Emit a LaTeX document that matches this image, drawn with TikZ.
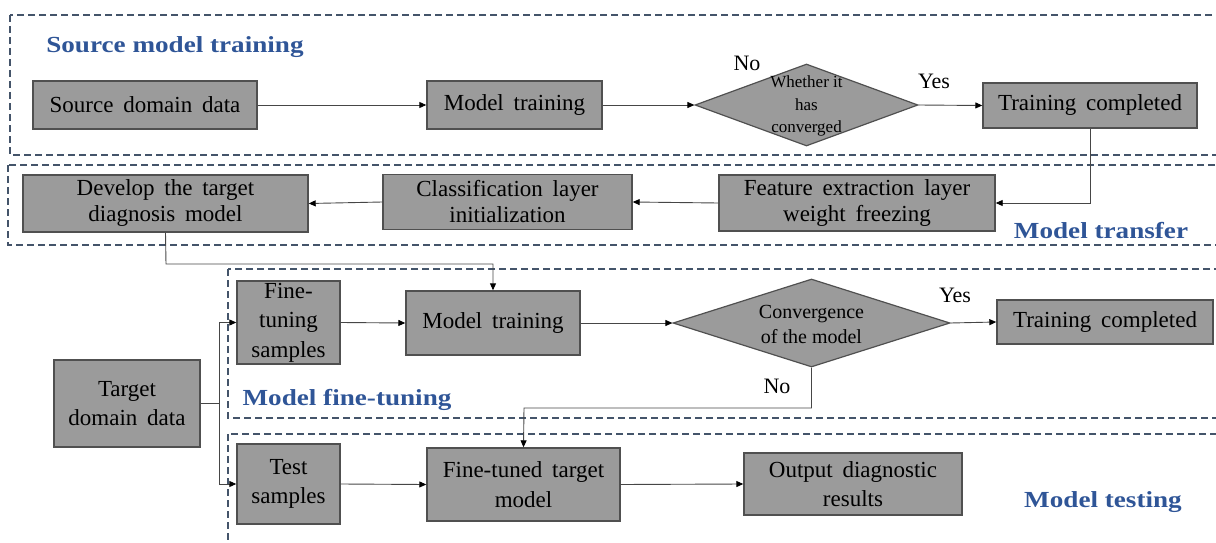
\documentclass[tikz,border=0pt]{standalone}
\usepackage{fontspec}
\setmainfont{Liberation Serif}
\newfontfamily\boxfont{Liberation Serif}[WordSpace=1.7]
\newfontfamily\titlefont{Liberation Serif Bold}[FakeStretch=1.18]
\usetikzlibrary{shapes.geometric,arrows.meta}
\definecolor{boxfill}{RGB}{155,155,155}
\definecolor{boxline}{RGB}{80,80,80}
\definecolor{frameline}{RGB}{68,84,106}
\definecolor{titleblue}{RGB}{47,85,151}
\definecolor{wire}{RGB}{70,70,70}

\begin{document}
\begin{tikzpicture}[x=1pt,y=-1pt,
  stagebox/.style={draw=boxline, fill=boxfill, line width=1.4pt, inner sep=0pt,
    align=center, font=\boxfont\fontsize{23}{26}\selectfont},
  tallbox/.style={stagebox, font=\boxfont\fontsize{23}{29.5}\selectfont},
  decision/.style={diamond, draw=boxline, fill=boxfill, line width=1.2pt, inner sep=0pt},
  frame/.style={draw=frameline, line width=1.5pt, dash pattern=on 7pt off 4pt},
  phase/.style={font=\titlefont\fontsize{23}{26}\selectfont, text=titleblue, inner sep=0pt},
  answer/.style={font=\fontsize{22}{24}\selectfont, inner sep=0pt},
  flow/.style={draw=wire, line width=0.9pt, -{Triangle[length=7pt,width=6pt,color=black]}},
  wireline/.style={draw=wire, line width=0.9pt}]

\useasboundingbox (0,0) rectangle (1216,543);
\clip (0,0) rectangle (1216,543);

% dashed stage frames
\draw[frame] (10,15) rectangle (1230,155);
\draw[frame] (8,165) rectangle (1230,245);
\draw[frame] (228,269) rectangle (1230,418);
\draw[frame] (228,434) rectangle (1230,570);

% stage titles
\node[phase] (t1) at (175,47) {Source model training};
\node[phase] (t2) at (1101,231) {Model transfer};
\node[phase] (t3) at (347,400) {Model fine-tuning};
\node[phase] (t4) at (1103,502) {Model testing};

% source model training
\node[stagebox, minimum width=224pt, minimum height=48pt] (src) at (145,105) {Source domain data};
\node[stagebox, minimum width=175pt, minimum height=48pt] (mt1) at (514.5,105) {Model training};
\node[decision, minimum width=223pt, minimum height=82pt] (dia1) at (806.5,105) {};
\node[align=center, inner sep=0pt, font=\fontsize{17}{22.5}\selectfont] (dia1t) at (806.5,106) {Whether it\\has\\converged};
\node[stagebox, minimum width=214pt, minimum height=45pt] (tc1) at (1090,105.5) {Training completed};
\node[answer] (no1) at (747,63) {No};
\node[answer] (yes1) at (934,81) {Yes};

% model transfer
\node[stagebox, minimum width=276pt, minimum height=56pt] (feat) at (857,203) {Feature extraction layer\\weight freezing};
\node[stagebox, minimum width=249pt, minimum height=55pt] (cls) at (507.5,202) {Classification layer\\initialization};
\node[stagebox, minimum width=285pt, minimum height=57pt] (dev) at (165.5,203.5) {Develop the target\\diagnosis model};

% fine-tuning
\node[tallbox, minimum width=146pt, minimum height=87pt] (tdd) at (127,403.5) {Target\\domain data};
\node[tallbox, minimum width=103pt, minimum height=83pt] (fts) at (288.5,322.5) {Fine-\\tuning\\samples};
\node[stagebox, minimum width=174pt, minimum height=64pt] (mt2) at (493,323) {Model training};
\node[decision, minimum width=277pt, minimum height=88pt] (dia2) at (811.5,323) {};
\node[align=center, inner sep=0pt, font=\fontsize{20}{25}\selectfont] (dia2t) at (811.5,324) {Convergence\\of the model};
\node[stagebox, minimum width=216pt, minimum height=44pt] (tc2) at (1105,322) {Training completed};
\node[answer] (yes2) at (955,295) {Yes};
\node[answer] (no2) at (777,386) {No};

% testing
\node[tallbox, minimum width=103pt, minimum height=80pt] (ts) at (288.5,484) {Test\\samples};
\node[tallbox, minimum width=193pt, minimum height=73pt] (ftm) at (523.5,484.5) {Fine-tuned target\\model};
\node[tallbox, minimum width=218pt, minimum height=62pt] (out) at (853,484) {Output diagnostic\\results};

% junction points
\coordinate (split) at (219,403.5);
\coordinate (jog1) at (166,264);
\coordinate (jog2) at (493,264);
\coordinate (jog3) at (811.5,408);
\coordinate (jog4) at (524,408);

% connectors
\draw[flow] (src.east) -- (mt1.west);
\draw[flow] (mt1.east) -- (dia1.west);
\draw[flow] (dia1.east) -- (tc1.west);
\draw[flow] (tc1.south) |- (feat.east);
\draw[flow] (feat.west) -- (cls.east);
\draw[flow] (cls.west) -- (dev.east);
\draw[flow] (dev.south) -- (jog1) -- (jog2) -- (mt2.north);
\draw[flow] (fts.east) -- (mt2.west);
\draw[flow] (mt2.east) -- (dia2.west);
\draw[flow] (dia2.east) -- (tc2.west);
\draw[flow] (dia2.south) -- (jog3) -- (jog4) -- (ftm.north);
\draw[wireline] (tdd.east) -- (split);
\draw[flow] (split) |- (fts.west);
\draw[flow] (split) |- (ts.west);
\draw[flow] (ts.east) -- (ftm.west);
\draw[flow] (ftm.east) -- (out.west);
\end{tikzpicture}
\end{document}
